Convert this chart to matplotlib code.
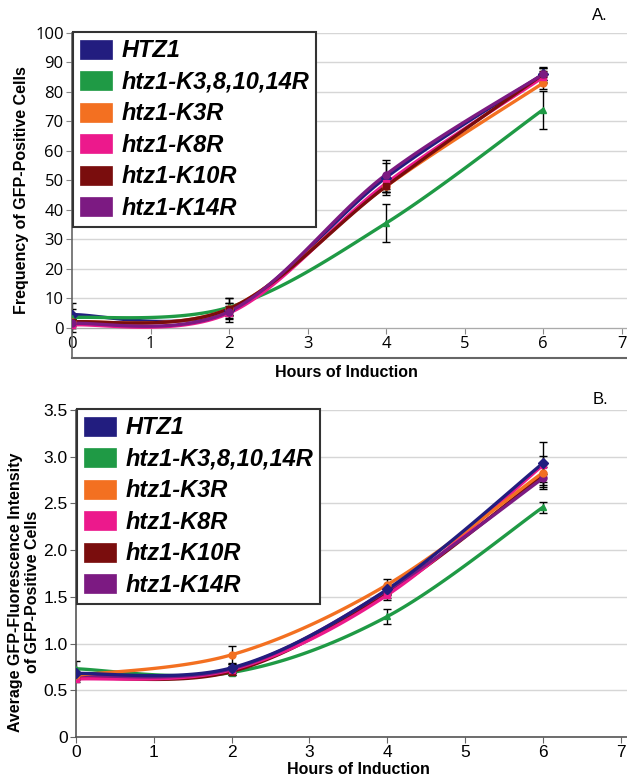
import numpy as np
import matplotlib
matplotlib.use("Agg")
import matplotlib.pyplot as plt
from matplotlib.patches import Patch

# ---------------- data ----------------
hours = [0, 2, 4, 6]
strains = ["HTZ1", "htz1-K3,8,10,14R", "htz1-K3R", "htz1-K8R", "htz1-K10R", "htz1-K14R"]

# Panel A: frequency of GFP-positive cells (%)
freq_htz1 = [4.5, 6.0, 51.0, 86.0]
freq_k3_8_10_14 = [3.5, 7.0, 35.5, 74.0]
freq_k3 = [2.0, 6.5, 48.0, 83.0]
freq_k8 = [1.0, 5.0, 49.0, 85.0]
freq_k10 = [2.0, 6.5, 48.0, 86.0]
freq_k14 = [1.5, 5.5, 52.0, 86.0]

freq_err_htz1 = [2.0, 4.0, 5.0, 2.5]
freq_err_k3_8_10_14 = [5.0, 3.0, 6.5, 6.5]
freq_err_k3 = [1.5, 2.0, 2.0, 2.0]
freq_err_k8 = [1.0, 2.0, 3.0, 2.0]
freq_err_k10 = [1.0, 2.0, 3.0, 2.0]
freq_err_k14 = [1.5, 2.0, 5.0, 2.0]

# Panel B: average GFP fluorescence intensity
fluo_htz1 = [0.68, 0.74, 1.58, 2.93]
fluo_k3_8_10_14 = [0.73, 0.69, 1.29, 2.46]
fluo_k3 = [0.66, 0.88, 1.63, 2.83]
fluo_k8 = [0.62, 0.72, 1.52, 2.91]
fluo_k10 = [0.64, 0.70, 1.54, 2.80]
fluo_k14 = [0.66, 0.73, 1.57, 2.77]

fluo_err_htz1 = [0.05, 0.04, 0.05, 0.23]
fluo_err_k3_8_10_14 = [0.08, 0.03, 0.08, 0.06]
fluo_err_k3 = [0.03, 0.09, 0.06, 0.10]
fluo_err_k8 = [0.03, 0.04, 0.05, 0.10]
fluo_err_k10 = [0.03, 0.04, 0.05, 0.12]
fluo_err_k14 = [0.04, 0.05, 0.05, 0.12]

freq_yticks = [0, 10, 20, 30, 40, 50, 60, 70, 80, 90, 100]
fluo_yticks = [0, 0.5, 1.0, 1.5, 2.0, 2.5, 3.0, 3.5]
fluo_yticklabels = ["0", "0.5", "1.0", "1.5", "2.0", "2.5", "3.0", "3.5"]
xticks = [0, 1, 2, 3, 4, 5, 6, 7]

colors = ["#221d7f", "#1f9a45", "#f37021", "#ec198c", "#7a0d0d", "#7c1a82"]
markers = ["D", "^", "o", "s", "s", "o"]

freq = [freq_htz1, freq_k3_8_10_14, freq_k3, freq_k8, freq_k10, freq_k14]
freq_err = [freq_err_htz1, freq_err_k3_8_10_14, freq_err_k3, freq_err_k8, freq_err_k10, freq_err_k14]
fluo = [fluo_htz1, fluo_k3_8_10_14, fluo_k3, fluo_k8, fluo_k10, fluo_k14]
fluo_err = [fluo_err_htz1, fluo_err_k3_8_10_14, fluo_err_k3, fluo_err_k8, fluo_err_k10, fluo_err_k14]


def smooth(xs, ys, n=40):
    """Excel-style smoothed line (Catmull-Rom Bezier) through the data points."""
    P = np.column_stack([xs, ys]).astype(float)
    ext = np.vstack([P[0], P, P[-1]])
    out = []
    t = np.linspace(0, 1, n)[:, None]
    for i in range(len(P) - 1):
        p0, p1, p2, p3 = ext[i], ext[i + 1], ext[i + 2], ext[i + 3]
        c1 = p1 + (p2 - p0) / 6.0
        c2 = p2 - (p3 - p1) / 6.0
        seg = (1 - t) ** 3 * p1 + 3 * (1 - t) ** 2 * t * c1 + 3 * (1 - t) * t ** 2 * c2 + t ** 3 * p2
        out.append(seg if i == 0 else seg[1:])
    pts = np.vstack(out)
    return pts[:, 0], pts[:, 1]


W, H = 627, 780
fig = plt.figure(figsize=(W / 100, H / 100), dpi=100)

label_font = dict(family="Liberation Sans", weight="bold", size=11.5)
legend_font = dict(family="Liberation Sans", weight="bold", style="italic", size=17)


def draw_series(ax, data, errs, order):
    for i in order:
        ax.errorbar(hours, data[i], yerr=errs[i], fmt="none", ecolor="black",
                    elinewidth=1.0, capsize=3, capthick=1.0, zorder=2)
    for i in order:
        sx, sy = smooth(hours, data[i])
        ax.plot(sx, sy, color=colors[i], lw=2.4, zorder=3, solid_capstyle="round")
        ax.plot(hours, data[i], linestyle="none", marker=markers[i], ms=5,
                color=colors[i], zorder=4)


def add_legend(ax):
    handles = [Patch(facecolor=c, edgecolor=c, linewidth=0.5) for c in colors]
    leg = ax.legend(handles, strains, loc="upper left", bbox_to_anchor=(0.002, 1.002),
                    borderaxespad=0, prop=legend_font, handlelength=1.35, handleheight=0.85,
                    handletextpad=0.4, labelspacing=0.36, borderpad=0.3,
                    fancybox=False, framealpha=1, edgecolor="#333333")
    leg.get_frame().set_linewidth(1.5)
    leg.set_zorder(10)
    return leg


# ---------------- Panel A ----------------
axA = fig.add_axes([72 / W, 1 - 358 / H, 1 - 72 / W, (358 - 33) / H])
axA.set_xlim(0, 7.07)
axA.set_ylim(-10.2, 100)
axA.set_yticks(freq_yticks)
axA.set_xticks(xticks)
axA.grid(axis="y", color="#d6d6d6", lw=1.0)
axA.set_axisbelow(True)
for s in ["top", "right"]:
    axA.spines[s].set_visible(False)
axA.spines["bottom"].set_position(("data", 0))
axA.spines["bottom"].set_color("#aaaaaa")
axA.spines["left"].set_color("#666666")
axA.spines["left"].set_linewidth(1.2)
axA.plot([0, 1], [0, 0], transform=axA.transAxes, color="#666666", lw=1.5, clip_on=False)
axA.tick_params(axis="both", length=4, color="#888888", labelsize=12, pad=2)
for lab in axA.get_xticklabels() + axA.get_yticklabels():
    lab.set_family("Open Sans")
draw_series(axA, freq, freq_err, [0, 1, 2, 3, 4, 5])
add_legend(axA)
fig.text(22 / W, 1 - 190 / H, "Frequency of GFP-Positive Cells", rotation=90,
         ha="center", va="center", **label_font)
fig.text(346 / W, 1 - 372 / H, "Hours of Induction", ha="center", va="center", **label_font)
fig.text(600 / W, 1 - 15 / H, "A.", ha="center", va="center", family="Liberation Sans", size=12)

# ---------------- Panel B ----------------
axB = fig.add_axes([76 / W, 1 - 737 / H, 1 - 76 / W, (737 - 410) / H])
axB.set_xlim(0, 7.08)
axB.set_ylim(0, 3.5)
axB.set_yticks(fluo_yticks)
axB.set_yticklabels(fluo_yticklabels)
axB.set_xticks(xticks)
axB.grid(axis="y", color="#d6d6d6", lw=1.0)
axB.set_axisbelow(True)
for s in ["top", "right"]:
    axB.spines[s].set_visible(False)
for s in ["bottom", "left"]:
    axB.spines[s].set_color("#555555")
    axB.spines[s].set_linewidth(1.2)
axB.tick_params(axis="both", length=4, color="#666666", labelsize=12.5, pad=2)
for lab in axB.get_xticklabels() + axB.get_yticklabels():
    lab.set_family("Liberation Sans")
draw_series(axB, fluo, fluo_err, [1, 4, 3, 5, 2, 0])
add_legend(axB)
fig.text(16 / W, 1 - 592 / H, "Average GFP-Fluorescence Intensity", rotation=90,
         ha="center", va="center", **label_font)
fig.text(33 / W, 1 - 592 / H, "of GFP-Positive Cells", rotation=90,
         ha="center", va="center", **label_font)
fig.text(358 / W, 1 - 769 / H, "Hours of Induction", ha="center", va="center", **label_font)
fig.text(600 / W, 1 - 400 / H, "B.", ha="center", va="center", family="Liberation Sans", size=12)

fig.savefig("out.png", dpi=100)
